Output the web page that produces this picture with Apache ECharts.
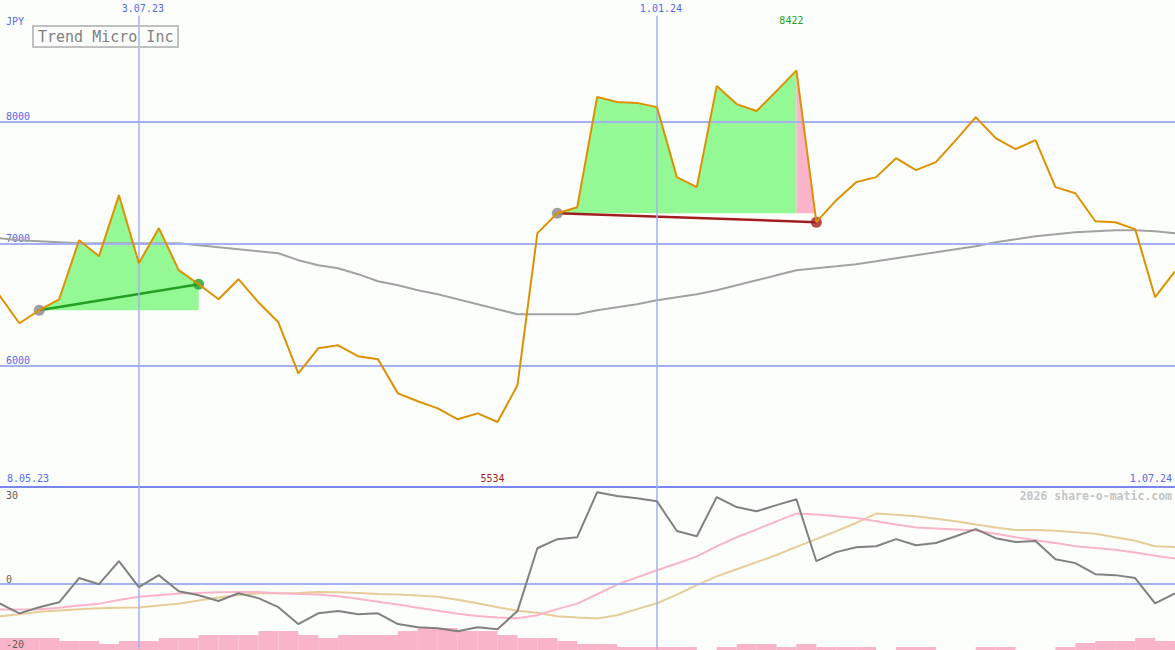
<!DOCTYPE html>
<html><head><meta charset="utf-8">
<script src="https://cdn.jsdelivr.net/npm/echarts@6/dist/echarts.min.js"></script>
<style>html,body{margin:0;padding:0;background:#fcfefc;overflow:hidden}#c{width:1175px;height:650px}</style>
</head><body><div id="c"></div>
<script>
// weekly closes, Trend Micro Inc (JPY), index 0 .. 59
const priceJPY = [6575,6345,6452,6542,7027,6896,7397,6838,7126,6781,
  6665,6542,6707,6517,6353,5934,6139,6164,6074,6049,
  5769,5704,5646,5556,5605,5534,5835,7085,7249,7298,
  8203,8162,8155,8120,7545,7463,8293,8145,8088,8252,
  8422,7175,7356,7504,7545,7701,7603,7668,7849,8038,
  7866,7775,7849,7463,7413,7183,7175,7118,6559,6772];
const movingAvg = [7044,7027,7019,7011,7002,7002,7002,7002,7002,7002,
  6986,6970,6953,6937,6920,6863,6822,6797,6748,6690,
  6657,6616,6583,6542,6501,6460,6419,6419,6419,6419,
  6452,6476,6501,6534,6559,6583,6616,6657,6698,6739,
  6781,6797,6813,6830,6854,6879,6904,6928,6953,6978,
  7011,7035,7060,7076,7093,7101,7109,7109,7101,7085];
const oscMain = [-5.9,-9.0,-7.1,-5.6,1.9,0,7.1,-0.9,2.8,-2.2,
  -3.4,-5.2,-2.8,-4.3,-7.1,-12.3,-9.0,-8.3,-9.3,-9.0,
  -12.3,-13.3,-13.6,-14.5,-13.3,-13.9,-8.3,11.1,13.9,14.5,
  28.4,27.2,26.5,25.6,16.4,14.8,26.9,23.8,22.5,24.4,
  26.2,7.1,9.9,11.4,11.7,13.9,12.0,12.7,14.8,17.0,
  14.2,13.0,13.3,7.7,6.5,3.1,2.8,1.9,-5.9,-2.8];
const oscFast = [-7.8,-7.8,-7.7,-7.3,-6.6,-6.0,-4.9,-3.9,-3.4,-2.9,
  -2.7,-2.5,-2.4,-2.4,-2.8,-3.0,-3.2,-3.7,-4.5,-5.4,
  -6.3,-7.3,-8.2,-9.1,-9.8,-10.3,-10.5,-9.6,-7.7,-6.0,
  -3.1,-0.1,2.1,4.3,6.4,8.6,11.7,14.5,16.9,19.4,
  21.8,21.5,21.0,20.4,19.4,18.4,17.5,17.2,16.9,16.6,
  15.6,14.5,13.6,12.7,11.7,11.2,10.6,9.8,8.8,7.9];
const oscSlow = [-9.9,-9.3,-8.5,-8.1,-7.7,-7.4,-7.3,-7.2,-6.6,-6.0,
  -5.0,-4.1,-3.3,-2.8,-2.8,-2.7,-2.4,-2.5,-2.7,-3.0,
  -3.2,-3.5,-3.9,-4.8,-5.9,-7.1,-8.2,-8.8,-9.9,-10.3,
  -10.6,-9.6,-7.7,-5.9,-3.2,-0.3,2.4,4.6,6.8,9.0,
  11.5,13.9,16.4,18.9,21.8,21.4,21.0,20.2,19.4,18.4,
  17.5,16.7,16.7,16.5,16.0,15.6,14.5,13.4,11.7,11.5];
const volume = [12,12,12,9,9,6,9,9,12,12,
  15,15,15,19,19,15,12,15,15,15,
  19,22,22,19,19,15,12,12,9,6,
  6,3,3,3,3,0,3,6,6,3,
  6,3,3,3,0,3,3,0,0,3,
  3,0,0,3,7,9,9,12,9,0];
const gridDates = ['3.07.23','1.01.24'];
const gridDateIndex = [7, 33];
const edgeDates = ['8.05.23','1.07.24'];
const priceTicks = [6000,7000,8000];
const oscTicksBottom = [0,-20];
const oscTicksTop = [30];
const trades = [{entry:2, peak:10, exit:10, win:true},{entry:28, peak:40, exit:41, win:false}];

const MONO = '"DejaVu Sans Mono", monospace';
const BLUE = '#5468ec', GRID = '#a3b0f2';
const pts = a => a.map((v,i)=>[i,v]);
const maxVal = Math.max(...priceJPY), minVal = Math.min(...priceJPY);
const maxIdx = priceJPY.indexOf(maxVal), minIdx = priceJPY.indexOf(minVal);

const chart = echarts.init(document.getElementById('c'), null, {renderer:'svg'});
const xBase = {type:'value', min:0.03, max:59, show:false};
const gridBase = {left:0, right:0, containLabel:false, outerBoundsMode:'none'};
chart.setOption({
  animation:false,
  backgroundColor:'#fcfefc',
  title:{text:'Trend Micro Inc', left:33, top:26, padding:[2,5,2,5], borderColor:'#c0c0c0', borderWidth:2,
    textStyle:{fontFamily:MONO, fontSize:15, fontWeight:'normal', color:'#808080', lineHeight:17}},
  grid:[Object.assign({top:0,height:487}, gridBase), Object.assign({top:487,height:162}, gridBase), Object.assign({top:600,height:50}, gridBase)],
  xAxis:[
    {type:'value', min:0.03, max:59, gridIndex:0, show:true, axisLine:{show:true, onZero:false, lineStyle:{color:'#7a86ee', width:2}},
      axisTick:{show:false}, axisLabel:{show:false}, splitLine:{show:false}},
    Object.assign({gridIndex:1}, xBase),
    Object.assign({gridIndex:2}, xBase)
  ],
  yAxis:[
    {gridIndex:0, type:'value', position:'left', min:5000, max:9000, interval:1000, axisLine:{show:false}, axisTick:{show:false}, splitLine:{show:false},
      axisLabel:{inside:true, margin:6, align:'left', verticalAlign:'bottom', color:BLUE, fontFamily:MONO, fontSize:10,
        formatter:v=>priceTicks.includes(v)?String(v):''}},
    {gridIndex:1, type:'value', position:'left', z:20, min:-20, max:30, interval:10, axisLine:{show:false}, axisTick:{show:false}, splitLine:{show:false},
      axisLabel:{inside:true, margin:6, align:'left', verticalAlign:'bottom', color:'#606060', fontFamily:MONO, fontSize:10,
        formatter:v=>oscTicksBottom.includes(v)?String(v):''}},
    {gridIndex:1, type:'value', position:'left', offset:0, z:20, min:-20, max:30, interval:10, axisLine:{show:false}, axisTick:{show:false}, splitLine:{show:false},
      axisLabel:{inside:true, margin:6, align:'left', verticalAlign:'top', lineHeight:16, color:'#606060', fontFamily:MONO, fontSize:10,
        formatter:v=>oscTicksTop.includes(v)?String(v):''}},
    {gridIndex:2, type:'value', min:0, max:50, show:false}
  ],
  graphic:[
    {type:'text', left:6, top:16, z:100, style:{text:'JPY', fill:BLUE, font:'10px '+MONO}},
    {type:'text', left:7, top:473, z:100, style:{text:edgeDates[0], fill:BLUE, font:'10px '+MONO}},
    {type:'text', right:3, top:473, z:100, style:{text:edgeDates[1], fill:BLUE, font:'10px '+MONO}},
    {type:'text', right:3, top:490, z:100, style:{text:'2026 share-o-matic.com', fill:'#c4c4c4', font:'bold 11.5px '+MONO}}
  ],
  series:[
    {type:'line', xAxisIndex:0, yAxisIndex:0, data:[], z:1, silent:true,
      markLine:{silent:true, symbol:['none','none'], animation:false,
        lineStyle:{color:GRID, width:2, type:'solid'}, label:{show:false},
        data: priceTicks.map(v=>({yAxis:v})).concat(gridDateIndex.map((d,k)=>[
          {coord:[d,5000], lineStyle:{width:1.5}, label:{show:true, position:'end', distance:2, offset:[4,0], formatter:gridDates[k], color:BLUE, fontFamily:MONO, fontSize:10}},
          {coord:[d,8870]}]))}},
    {type:'bar', xAxisIndex:2, yAxisIndex:3, data:volume.map((v,i)=>[i+0.5,v]), barWidth:20, itemStyle:{color:'#f9b4c9'}, z:1, silent:true},
    {type:'line', xAxisIndex:1, yAxisIndex:1, data:[], z:2, silent:true,
      markLine:{silent:true, symbol:['none','none'], animation:false, lineStyle:{color:GRID, width:2, type:'solid'}, label:{show:false},
        data:[{yAxis:0}].concat(gridDateIndex.map(d=>[{coord:[d,-20], lineStyle:{width:1.5}},{coord:[d,30]}]))}},
    {type:'custom', xAxisIndex:0, yAxisIndex:0, z:2, silent:true,
      data: trades.map(t=>[t.entry, priceJPY[t.entry]]), encode:{x:0,y:1},
      renderItem:function(params, api){
        const t = trades[params.dataIndex];
        const base = priceJPY[t.entry];
        const kids = [];
        const gp = [api.coord([t.entry, base])];
        for (let i=t.entry;i<=t.peak;i++) gp.push(api.coord([i, Math.max(priceJPY[i], base)]));
        gp.push(api.coord([t.peak, base]));
        kids.push({type:'polygon', shape:{points:gp}, style:{fill:'#94f994'}});
        if (t.exit > t.peak){
          const pp = [api.coord([t.peak, base])];
          for (let i=t.peak;i<t.exit;i++){
            const a=priceJPY[i], b=priceJPY[i+1];
            if (a>=base) pp.push(api.coord([i,a]));
            if ((a-base)*(b-base)<0){ const f=(a-base)/(a-b); pp.push(api.coord([i+f, base])); }
          }
          if (priceJPY[t.exit]>=base){ pp.push(api.coord([t.exit, priceJPY[t.exit]])); pp.push(api.coord([t.exit, base])); }
          kids.push({type:'polygon', shape:{points:pp}, style:{fill:'#f9b4c9'}});
        }
        return {type:'group', children:kids};
      }},
    {type:'line', xAxisIndex:0, yAxisIndex:0, data:pts(movingAvg), showSymbol:false, z:3, silent:true,
      lineStyle:{color:'#a2a2a2', width:2}},
    ...trades.map(t=>({type:'line', xAxisIndex:0, yAxisIndex:0, z:4, silent:true, showSymbol:false,
      data:[[t.entry, priceJPY[t.entry]],[t.exit, priceJPY[t.exit]]],
      lineStyle:{color:t.win?'#22a022':'#a21e1e', width:2.5}})),
    {type:'scatter', xAxisIndex:0, yAxisIndex:0, z:5, silent:true, symbolSize:11,
      data: trades.map(t=>[t.entry, priceJPY[t.entry]]), itemStyle:{color:'#878787'}},
    {type:'scatter', xAxisIndex:0, yAxisIndex:0, z:5, silent:true, symbolSize:11,
      data: trades.map(t=>({value:[t.exit, priceJPY[t.exit]], itemStyle:{color:t.win?'#22a022':'#a21e1e'}}))},
    {type:'line', xAxisIndex:0, yAxisIndex:0, data:pts(priceJPY), showSymbol:false, z:6, silent:true,
      lineStyle:{color:'#dd9100', width:2},
      markPoint:{silent:true, symbol:'circle', symbolSize:1, itemStyle:{color:'rgba(0,0,0,0)'}, animation:false,
        label:{show:true, position:'inside', offset:[-5,0], fontFamily:MONO, fontSize:10, formatter:'{c}'},
        data:[{coord:[maxIdx,8832], value:maxVal, label:{color:'#22a022'}},
              {coord:[minIdx,5066], value:minVal, label:{color:'#a21e1e'}}]}},
    {type:'line', xAxisIndex:1, yAxisIndex:1, data:pts(oscSlow), showSymbol:false, z:3, silent:true, lineStyle:{color:'#e6cc98', width:2}},
    {type:'line', xAxisIndex:1, yAxisIndex:1, data:pts(oscFast), showSymbol:false, z:4, silent:true, lineStyle:{color:'#f9b4c9', width:2}},
    {type:'line', xAxisIndex:1, yAxisIndex:1, data:pts(oscMain), showSymbol:false, z:5, silent:true, lineStyle:{color:'#808080', width:2}}
  ]
});
</script></body></html>
